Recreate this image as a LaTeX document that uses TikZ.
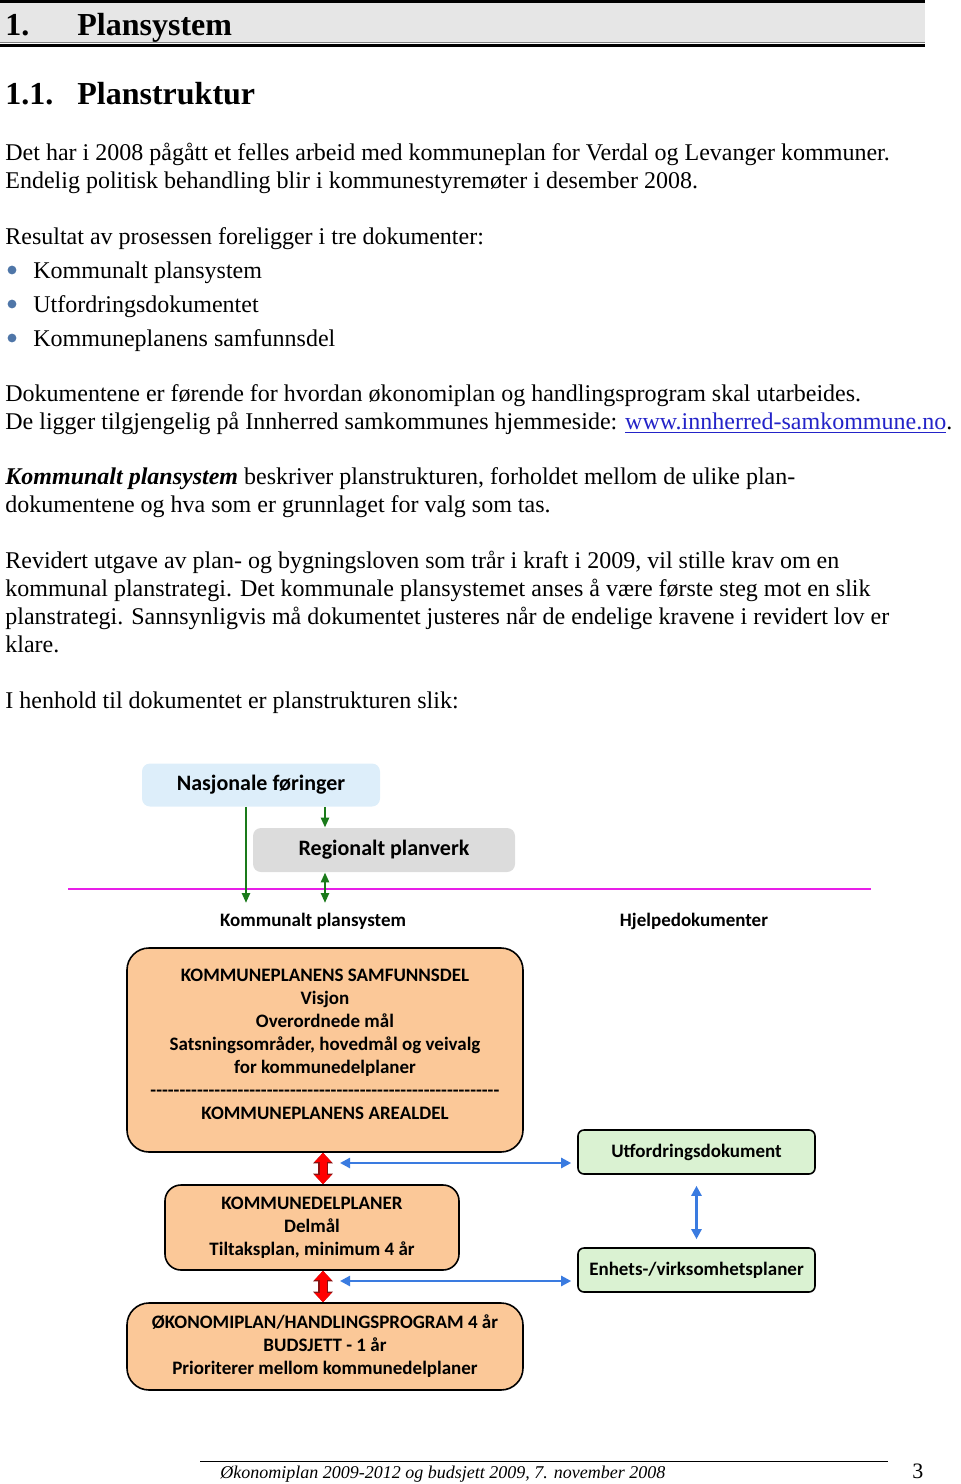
\documentclass[tikz,border=0pt]{standalone}
\usepackage{fontspec}
\setmainfont{Liberation Serif}
\newfontfamily\diafont{Carlito}
\usetikzlibrary{arrows.meta, positioning, calc}

\definecolor{barfill}{HTML}{E6E6E6}
\definecolor{bulletblue}{HTML}{4F76A8}
\definecolor{linkblue}{HTML}{2323C8}
\definecolor{nasjfill}{HTML}{DDEEFA}
\definecolor{regfill}{HTML}{DCDCDC}
\definecolor{peach}{HTML}{FBC898}
\definecolor{mintfill}{HTML}{DAF2D2}
\definecolor{darkgreen}{HTML}{1A7A1A}
\definecolor{magentaline}{HTML}{E81EE8}
\definecolor{arrowblue}{HTML}{3A7BE0}
\definecolor{darkred}{HTML}{8A1010}

\begin{document}
\begin{tikzpicture}[x=0.5pt, y=-0.5pt]

  % Define styles for the page text and the diagram
  \tikzstyle{heading} = [anchor=base west, inner sep=0pt, font=\fontsize{16}{19}\selectfont\bfseries]
  \tikzstyle{bodytext} = [anchor=base west, inner sep=0pt, font=\fontsize{12}{14}\selectfont]
  \tikzstyle{bullet} = [circle, fill=bulletblue, inner sep=0pt, minimum size=4.4pt]
  \tikzstyle{topbox} = [rounded corners=4pt, minimum width=119pt, minimum height=21.5pt, font=\diafont\bfseries\fontsize{11}{13}\selectfont]
  \tikzstyle{planbox} = [draw, line width=0.8pt, fill=peach, rounded corners=11pt, align=center, font=\diafont\bfseries\fontsize{9.5}{11.5}\selectfont]
  \tikzstyle{helpbox} = [draw, line width=0.8pt, fill=mintfill, rounded corners=3pt, minimum width=118.5pt, minimum height=22pt, font=\diafont\bfseries\fontsize{9.5}{11.5}\selectfont]
  \tikzstyle{dialabel} = [inner sep=0pt, font=\diafont\bfseries\fontsize{9.5}{11.5}\selectfont]
  \tikzstyle{greenarrow} = [-{Triangle[length=5pt, width=4pt]}, darkgreen, line width=1.2pt]
  \tikzstyle{greenboth} = [{Triangle[length=5pt, width=4pt]}-{Triangle[length=5pt, width=4pt]}, darkgreen, line width=1.2pt]
  \tikzstyle{bluearrow} = [{Triangle[length=5pt, width=5pt]}-{Triangle[length=5pt, width=5pt]}, arrowblue, line width=1.2pt]
  \tikzstyle{redarrow} = [{Triangle[length=4.5pt, width=8pt]}-{Triangle[length=4.5pt, width=8pt]}, red, line width=3.5pt,
    preaction={draw=darkred, line width=4.8pt, {Triangle[length=5.3pt, width=9.6pt]}-{Triangle[length=5.3pt, width=9.6pt]}}]

  \useasboundingbox (0,0) rectangle (960,1484);

  % section heading bar
  \fill[barfill] (0,2) rectangle (925,43);
  \draw[line width=1.5pt] (0,1.5) -- (925,1.5);
  \draw[gray, line width=0.4pt] (0,42.5) -- (925,42.5);
  \draw[line width=1.2pt] (0,45.5) -- (925,45.5);
  \node (sec_num) [heading] at (5,35) {1.};
  \node (sec_title) [heading] at (77,35) {Plansystem};
  \node (sub_num) [heading] at (5,104) {1.1.};
  \node (sub_title) [heading] at (77,104) {Planstruktur};

  % body text
  \node (intro_1) [bodytext] at (5,160) {Det har i 2008 pågått et felles arbeid med kommuneplan for Verdal og Levanger kommuner.};
  \node (intro_2) [bodytext] at (5,188) {Endelig politisk behandling blir i kommunestyremøter i desember 2008.};
  \node (result_head) [bodytext] at (5,244) {Resultat av prosessen foreligger i tre dokumenter:};
  \node (dot_1) [bullet] at (12,270) {};
  \node (item_1) [bodytext] at (33,278) {Kommunalt plansystem};
  \node (dot_2) [bullet] at (12,304) {};
  \node (item_2) [bodytext] at (33,312) {Utfordringsdokumentet};
  \node (dot_3) [bullet] at (12,338) {};
  \node (item_3) [bodytext] at (33,346) {Kommuneplanens samfunnsdel};
  \node (docs_1) [bodytext] at (5,401) {Dokumentene er førende for hvordan økonomiplan og handlingsprogram skal utarbeides.};
  \node (docs_2) [bodytext] at (5,429) {De ligger tilgjengelig på Innherred samkommunes hjemmeside: {\color{linkblue}\underline{www.innherred-samkommune.no}}.};
  \node (desc_1) [bodytext] at (5,484) {\textbf{\textit{Kommunalt plansystem}} beskriver planstrukturen, forholdet mellom de ulike plan-};
  \node (desc_2) [bodytext] at (5,512) {dokumentene og hva som er grunnlaget for valg som tas.};
  \node (law_1) [bodytext] at (5,568) {Revidert utgave av plan- og bygningsloven som trår i kraft i 2009, vil stille krav om en};
  \node (law_2) [bodytext] at (5,596) {kommunal planstrategi. Det kommunale plansystemet anses å være første steg mot en slik};
  \node (law_3) [bodytext] at (5,624) {planstrategi. Sannsynligvis må dokumentet justeres når de endelige kravene i revidert lov er};
  \node (law_4) [bodytext] at (5,652) {klare.};
  \node (lead_in) [bodytext] at (5,708) {I henhold til dokumentet er planstrukturen slik:};

  % national and regional level
  \node (nasj) [topbox, fill=nasjfill] at (261,785) {Nasjonale føringer};
  \node (reg) [topbox, fill=regfill, minimum width=131pt, minimum height=22pt] at (384,850) {Regionalt planverk};
  \draw[magentaline, line width=1.2pt] (68,889) -- (871,889);
  \coordinate (kom_in) at (246,903);
  \coordinate (nasj_l) at ($(nasj.south)+(-15,0)$);
  \coordinate (nasj_r) at ($(nasj.south)+(64,0)$);
  \coordinate (reg_l) at ($(reg.south)+(-59,0)$);
  \draw[greenarrow] (nasj_l) -- (kom_in);
  \draw[greenarrow] (nasj_r) -- (nasj_r |- reg.north);
  \draw[greenboth] (reg_l) -- (reg_l |- kom_in);

  \node (kom_label) [dialabel] at (313,921) {Kommunalt plansystem};
  \node (help_label) [dialabel] at (694,921) {Hjelpedokumenter};

  % municipal plans
  \node (samf) [planbox, minimum width=198pt, minimum height=102pt] at (325,1050) {KOMMUNEPLANENS SAMFUNNSDEL\\Visjon\\Overordnede mål\\Satsningsområder, hovedmål og veivalg\\for kommunedelplaner\\\foreach \i in {1,...,60}{-}\\KOMMUNEPLANENS AREALDEL\\[-6pt]};
  \node (delpl) [planbox, rounded corners=8pt, minimum width=147pt, minimum height=42.5pt] at (312,1227.5) {KOMMUNEDELPLANER\\Delmål\\Tiltaksplan, minimum 4 år};
  \node (okon) [planbox, minimum width=198pt, minimum height=43.5pt] at (325,1346.5) {ØKONOMIPLAN/HANDLINGSPROGRAM 4 år\\BUDSJETT - 1 år\\Prioriterer mellom kommunedelplaner};

  \node (utf) [helpbox] at (696.5,1152) {Utfordringsdokument};
  \node (enh) [helpbox] at (696.5,1270) {Enhets-/virksomhetsplaner};

  \coordinate (red_top) at ($(samf.south)+(-2,0)$);
  \coordinate (red_low) at ($(okon.north)+(-2,0)$);
  \draw[redarrow] (red_top) -- (red_top |- delpl.north);
  \draw[redarrow] (red_low |- delpl.south) -- (red_low);

  \coordinate (blue_1) at (340,1163);
  \coordinate (blue_2) at (340,1281);
  \draw[bluearrow] (blue_1) -- ($(blue_1 -| utf.west)+(-6,0)$);
  \draw[bluearrow] (blue_2) -- ($(blue_2 -| enh.west)+(-6,0)$);
  \draw[bluearrow] ($(utf.south)+(0,11)$) -- ($(enh.north)+(0,-8)$);

  % footer
  \draw[line width=0.5pt] (200,1461) -- (888,1461);
  \node (foot_text) [bodytext, font=\fontsize{9}{11}\selectfont\itshape] at (220,1478) {Økonomiplan 2009-2012 og budsjett 2009, 7. november 2008};
  \node (page_num) [bodytext, font=\fontsize{11}{13}\selectfont] at (912,1478) {3};

\end{tikzpicture}
\end{document}
